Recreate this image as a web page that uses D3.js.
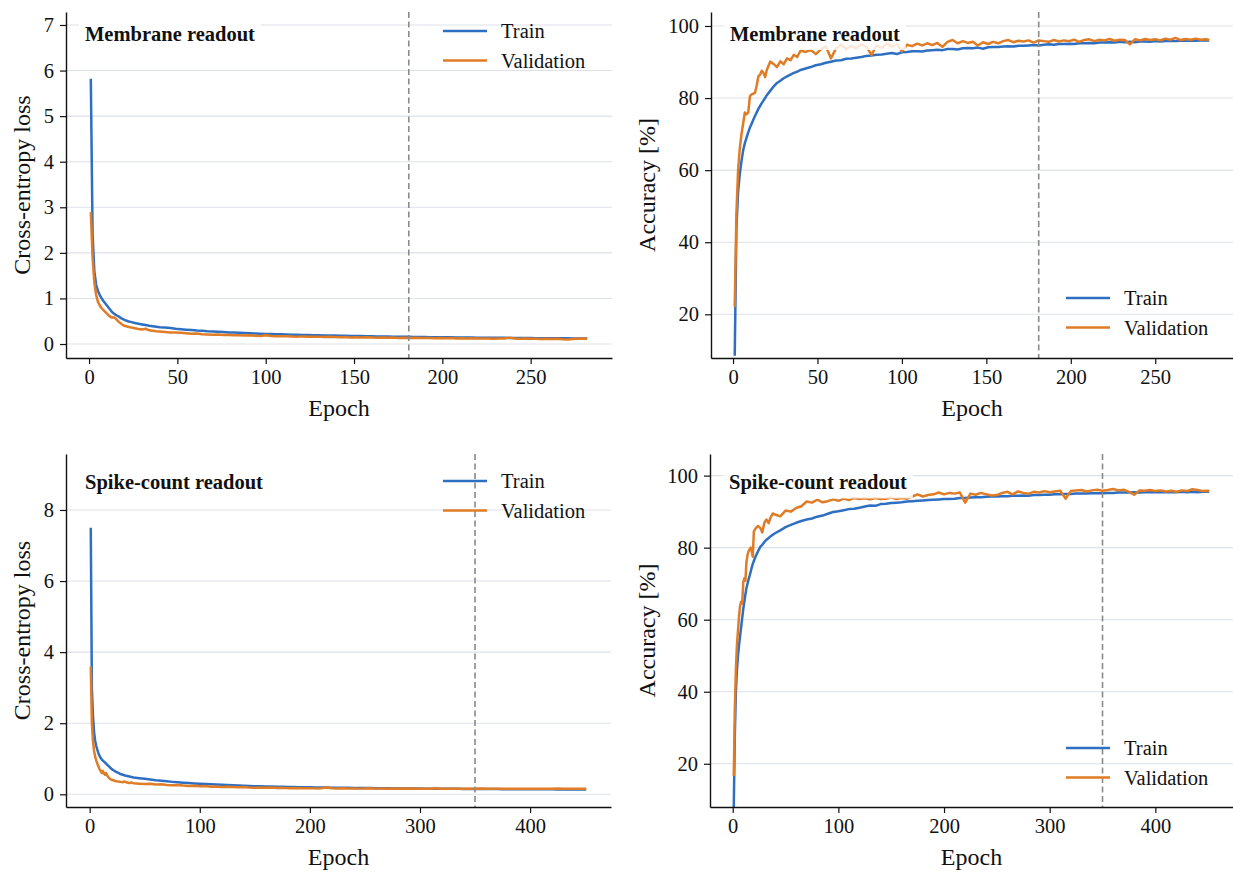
<!DOCTYPE html>
<html><head><meta charset="utf-8">
<script src="https://cdn.jsdelivr.net/npm/d3@7"></script>
<style>
body{margin:0;background:#fff}
svg{display:block}
text{font-family:"Liberation Serif","Times New Roman",Times,serif;fill:#111}
</style>
</head><body><svg id="c" width="1233" height="876"></svg>
<script>
// ---------------- DATA ----------------
const seriesNames = ["Train", "Validation"];
const titles = ["Membrane readout", "Spike-count readout"];
const yLabels = ["Cross-entropy loss", "Accuracy [%]"];
const xLabel = "Epoch";

const xTicksM = [0, 50, 100, 150, 200, 250];
const xTicksS = [0, 100, 200, 300, 400];
const yTicksLossM = [0, 1, 2, 3, 4, 5, 6, 7];
const yTicksLossS = [0, 2, 4, 6, 8];
const yTicksAcc = [20, 40, 60, 80, 100];

const bestEpochM = 181;
const bestEpochS = 350;

const epochsM = [1,2,3,4,5,6,7,8,9,10,11,12,13,14,15,16,17,18,19,20,
 22,24,26,28,30,32,34,36,38,40,
 43,46,49,52,55,58,61,64,67,70,73,76,79,82,85,88,91,94,97,100,
 103,106,109,112,115,118,121,124,127,130,133,136,139,142,145,148,151,154,157,160,
 163,166,169,172,175,178,181,184,187,190,193,196,199,202,205,208,211,214,217,220,
 223,226,229,232,235,238,241,244,247,250,253,256,259,262,265,268,271,274,277,280,
 282];

const lossTrainM = [5.82,2.40,1.60,1.30,1.17,1.08,1.01,0.95,0.90,0.85,0.80,0.75,0.70,0.67,0.64,0.62,0.60,0.57,0.55,0.53,
 0.50,0.48,0.46,0.445,0.43,0.415,0.40,0.39,0.38,0.37,
 0.36,0.35,0.335,0.325,0.315,0.305,0.295,0.29,0.28,0.275,0.27,0.262,0.255,0.25,0.245,0.24,0.235,0.23,0.227,0.222,
 0.218,0.215,0.212,0.208,0.205,0.202,0.199,0.196,0.194,0.191,0.188,0.186,0.184,0.182,0.18,0.177,0.175,0.173,0.171,0.169,
 0.167,0.166,0.164,0.162,0.161,0.159,0.157,0.156,0.154,0.153,0.151,0.15,0.149,0.147,0.146,0.145,0.144,0.142,0.141,0.14,
 0.139,0.138,0.137,0.136,0.135,0.134,0.133,0.132,0.131,0.13,0.129,0.128,0.127,0.126,0.126,0.125,0.124,0.123,0.122,0.121,
 0.121];

const lossValM = [2.90,1.90,1.35,1.08,0.93,0.85,0.79,0.75,0.71,0.67,0.63,0.60,0.58,0.585,0.56,0.52,0.48,0.45,0.42,0.40,
 0.38,0.36,0.345,0.33,0.32,0.335,0.30,0.29,0.28,0.275,
 0.265,0.255,0.25,0.245,0.235,0.225,0.23,0.215,0.21,0.205,0.21,0.2,0.195,0.19,0.192,0.185,0.19,0.18,0.175,0.19,
 0.178,0.172,0.168,0.172,0.165,0.162,0.167,0.16,0.157,0.162,0.152,0.157,0.152,0.148,0.153,0.143,0.148,0.143,0.148,0.142,
 0.138,0.143,0.137,0.142,0.133,0.138,0.132,0.137,0.132,0.13,0.134,0.127,0.132,0.126,0.13,0.122,0.127,0.121,0.126,0.121,
 0.119,0.123,0.116,0.121,0.119,0.14,0.121,0.116,0.119,0.113,0.116,0.112,0.117,0.11,0.113,0.105,0.1,0.108,0.115,0.12,
 0.118];

const accTrainM = [8.5,44,54,59,62.5,65.5,67.5,69,70.5,71.8,72.9,74,75,76,77,77.8,78.6,79.3,80,80.8,
 82,83.2,84.2,84.8,85.5,86,86.5,87,87.3,87.8,
 88.2,88.6,89.1,89.4,89.8,90.1,90.4,90.5,90.9,91,91.2,91.4,91.7,91.8,92,92.1,92.3,92.5,92.2,92.7,
 92.8,93,93,92.9,93.2,93.3,93.4,93.3,93.6,93.6,93.5,93.8,93.9,93.8,94,93.7,94.1,94.2,94.2,94.3,
 94.4,94.3,94.5,94.5,94.6,94.7,94.6,94.8,94.9,94.8,95,95,95.1,95,95.2,95.2,95.3,95.2,95.4,95.4,
 95.5,95.4,95.6,95.5,95.6,95.5,95.7,95.7,95.6,95.8,95.7,95.8,95.9,95.8,95.9,95.9,96,95.9,96,96,
 96];

const accValM = [22,48,60,66,70,73,76,75.5,76,80.5,81,81.2,81.5,83.5,86,86.5,87.6,87,85.8,87.8,
 90.1,89.5,88.6,90.2,89.4,91,90.5,92,91.4,93.2,
 92.8,93.4,92.2,93.5,94.3,91.0,93.8,94.8,93.6,94.5,93.8,95.0,94.2,92.0,94.6,93.9,95.1,94.3,95.0,93.0,
 94.8,94.4,95.1,94.6,95.2,94.7,95.3,94.2,95.6,96.1,95.2,95.8,95.3,95.6,94.6,95.5,95.0,95.6,95.2,95.8,
 96.1,95.5,95.9,95.7,96.0,95.4,96.0,95.8,95.6,96.1,95.7,96.0,95.8,96.2,95.6,96.1,96.3,95.8,96.2,96.0,
 96.4,95.9,96.2,96.1,94.9,96.3,96.0,96.4,96.1,96.3,96.0,96.5,96.2,96.7,96.1,96.4,96.2,96.5,96.2,96.3,
 96.1];

const epochsS = [1,2,3,4,5,6,7,8,9,10,11,12,13,14,15,16,17,18,19,20,
 22,24,26,28,30,32,34,36,38,40,
 45,50,55,60,65,70,75,80,85,90,95,100,105,110,115,120,125,130,135,140,
 145,150,155,160,165,170,175,180,185,190,195,200,205,210,215,220,225,230,235,240,
 245,250,255,260,265,270,275,280,285,290,295,300,305,310,315,320,325,330,335,340,
 345,350,355,360,365,370,375,380,385,390,395,400,405,410,415,420,425,430,435,440,
 445,450,451];

const lossTrainS = [7.5,3.0,2.2,1.75,1.5,1.36,1.25,1.15,1.08,1.02,0.98,0.95,0.92,0.89,0.86,0.83,0.80,0.77,0.74,0.71,
 0.67,0.63,0.6,0.57,0.55,0.53,0.515,0.5,0.485,0.475,
 0.455,0.435,0.415,0.395,0.38,0.365,0.35,0.338,0.327,0.317,0.307,0.298,0.29,0.283,0.275,0.267,0.26,0.253,0.246,0.24,
 0.235,0.23,0.226,0.222,0.218,0.214,0.211,0.208,0.205,0.202,0.2,0.197,0.195,0.192,0.19,0.188,0.186,0.184,0.182,0.18,
 0.178,0.176,0.175,0.173,0.171,0.17,0.168,0.167,0.165,0.164,0.162,0.161,0.16,0.158,0.157,0.156,0.155,0.154,0.153,0.152,
 0.151,0.15,0.149,0.148,0.147,0.146,0.145,0.145,0.144,0.143,0.142,0.142,0.141,0.14,0.14,0.139,0.138,0.138,0.137,0.137,
 0.136,0.136,0.135];

const lossValS = [3.6,2.0,1.5,1.22,1.06,0.95,0.86,0.78,0.71,0.65,0.6,0.66,0.58,0.55,0.6,0.52,0.48,0.45,0.42,0.41,
 0.39,0.37,0.36,0.35,0.34,0.36,0.33,0.32,0.33,0.31,
 0.3,0.29,0.3,0.275,0.28,0.265,0.255,0.262,0.245,0.235,0.243,0.225,0.232,0.215,0.222,0.205,0.212,0.204,0.196,0.203,
 0.193,0.188,0.194,0.184,0.189,0.179,0.184,0.174,0.179,0.172,0.168,0.174,0.167,0.172,0.19,0.168,0.163,0.168,0.161,0.165,
 0.16,0.165,0.169,0.16,0.164,0.157,0.162,0.156,0.161,0.157,0.162,0.159,0.154,0.158,0.172,0.157,0.16,0.154,0.158,0.155,
 0.159,0.157,0.162,0.155,0.159,0.154,0.158,0.156,0.16,0.155,0.159,0.157,0.16,0.154,0.159,0.156,0.162,0.157,0.16,0.155,
 0.159,0.157,0.158];

const accTrainS = [8,28,40,46,50,53,55.5,58,60.5,63,65,67,68.8,70,71.2,72.2,73.3,74.5,75.5,76.3,
 77.8,79,80.2,80.8,81.6,82.2,82.7,83.2,83.6,84,
 84.8,85.7,86.3,86.9,87.4,87.8,88.1,88.6,88.9,89.4,89.9,90.1,90.4,90.7,90.8,91.1,91.4,91.7,91.6,92.1,
 92.2,92.4,92.5,92.6,92.8,92.9,93.0,93.1,93.2,93.3,93.4,93.5,93.5,93.6,93.8,93.8,93.9,94.0,94.0,94.1,
 94.2,94.2,94.3,94.3,94.4,94.4,94.5,94.4,94.6,94.6,94.7,94.7,94.8,94.8,94.9,94.9,95.0,95.0,95.0,95.1,
 95.1,95.1,95.2,95.2,95.3,95.3,95.3,95.4,95.3,95.4,95.4,95.4,95.4,95.4,95.4,95.4,95.5,95.4,95.5,95.4,
 95.5,95.5,95.5];

const accValS = [16.6,35,46,53,57,61,64,65,64.5,70.5,71.5,70.8,76,78,79,79.5,80,79,77.5,84.5,
 85.5,86,85.5,84.2,87,87.8,86.8,88.5,89.5,89.2,
 88.7,90.3,90.0,91.0,91.5,92.8,92.5,93.3,92.6,92.9,93.4,93.0,93.6,93.2,93.8,93.5,93.7,93.4,93.8,93.5,
 93.6,93.9,93.5,93.8,93.6,94.2,94.8,94.2,94.6,94.8,95.3,94.8,95.2,95.0,95.3,92.5,95.0,94.7,95.2,94.8,
 94.5,94.6,95.2,95.5,94.8,95.6,95.2,95.0,95.5,95.3,95.7,95.4,95.6,95.8,93.6,95.7,95.9,96.0,95.6,95.9,
 96.1,95.8,96.0,96.3,95.9,96.1,95.5,94.7,95.9,95.8,96.0,95.7,95.9,95.6,95.8,95.5,95.9,95.7,96.2,96.0,
 95.7,95.8,95.7];

// ---------------- LAYOUT / STYLE ----------------
const colors = {train: "#2e6fc1", val: "#e07b26", grid: "#dde1e8", dash: "#8a8a8a"};
const FS_TICK = 20.5, FS_LABEL = 24, FS_LEG = 20.5, FS_TITLE = 20.5;
const LW = 2.5;

const panels = [
  {left: 66, right: 612, top: 12, bottom: 358, xDomain: [-13.05, 296.05], yDomain: [-0.307, 7.285],
   xTicks: xTicksM, yTicks: yTicksLossM, ylabel: yLabels[0], title: titles[0], labelX: 22,
   epochs: epochsM, train: lossTrainM, val: lossValM, stop: bestEpochM, legX: 443, legY: 31},
  {left: 711, right: 1233, top: 12, bottom: 358, xDomain: [-13.05, 296.05], yDomain: [7.88, 103.88],
   xTicks: xTicksM, yTicks: yTicksAcc, ylabel: yLabels[1], title: titles[0], labelX: 647,
   epochs: epochsM, train: accTrainM, val: accValM, stop: bestEpochM, legX: 1066, legY: 298},
  {left: 66, right: 611, top: 454, bottom: 807, xDomain: [-21.5, 473.5], yDomain: [-0.357, 9.575],
   xTicks: xTicksS, yTicks: yTicksLossS, ylabel: yLabels[0], title: titles[1], labelX: 22,
   epochs: epochsS, train: lossTrainS, val: lossValS, stop: bestEpochS, legX: 443, legY: 481},
  {left: 710, right: 1233, top: 454, bottom: 807, xDomain: [-21.5, 473.5], yDomain: [8.0, 106.0],
   xTicks: xTicksS, yTicks: yTicksAcc, ylabel: yLabels[1], title: titles[1], labelX: 647,
   epochs: epochsS, train: accTrainS, val: accValS, stop: bestEpochS, legX: 1066, legY: 748}
];

const svg = d3.select("#c");

panels.forEach(p => {
  const x = d3.scaleLinear().domain(p.xDomain).range([p.left, p.right]);
  const y = d3.scaleLinear().domain(p.yDomain).range([p.bottom, p.top]);
  const g = svg.append("g");

  // grid
  g.append("g").selectAll("line").data(p.yTicks).join("line")
    .attr("x1", p.left).attr("x2", p.right)
    .attr("y1", d => y(d)).attr("y2", d => y(d))
    .attr("stroke", colors.grid).attr("stroke-width", 1.1);

  // curves
  const line = d3.line().x((d, i) => x(p.epochs[i])).y(d => y(d));
  g.append("path").attr("d", line(p.train)).attr("fill", "none")
    .attr("stroke", colors.train).attr("stroke-width", LW).attr("stroke-linejoin", "round");
  g.append("path").attr("d", line(p.val)).attr("fill", "none")
    .attr("stroke", colors.val).attr("stroke-width", LW).attr("stroke-linejoin", "round");

  // best epoch dashed line
  g.append("line").attr("x1", x(p.stop)).attr("x2", x(p.stop))
    .attr("y1", p.top).attr("y2", p.bottom)
    .attr("stroke", colors.dash).attr("stroke-width", 1.6).attr("stroke-dasharray", "6,3.5");

  // title with semi-transparent box
  const tx = p.left + 19, ty = p.top + (p.top < 100 ? 28.5 : 35);
  const tb = g.append("rect").attr("fill", "#fff").attr("fill-opacity", 0.82);
  const tt = g.append("text").attr("x", tx).attr("y", ty)
    .attr("font-size", FS_TITLE).attr("font-weight", "bold").text(p.title);
  const tw = tt.node().getComputedTextLength();
  tb.attr("x", tx - 6).attr("y", ty - 19).attr("width", tw + 12).attr("height", 28.5);

  // axes
  const ax = g.append("g").attr("transform", `translate(0,${p.bottom})`)
    .call(d3.axisBottom(x).tickValues(p.xTicks).tickFormat(d3.format("d")).tickSize(6).tickSizeOuter(0).tickPadding(5));
  const ay = g.append("g").attr("transform", `translate(${p.left},0)`)
    .call(d3.axisLeft(y).tickValues(p.yTicks).tickFormat(d3.format("d")).tickSize(6).tickSizeOuter(0).tickPadding(6));
  [ax, ay].forEach(a => {
    a.select(".domain").attr("stroke", "#111").attr("stroke-width", 1.4);
    a.selectAll(".tick line").attr("stroke", "#111").attr("stroke-width", 1.2);
    a.selectAll(".tick text").attr("font-size", FS_TICK)
      .attr("font-family", '"Liberation Serif","Times New Roman",serif').attr("fill", "#111");
  });

  // axis labels
  g.append("text").attr("x", (p.left + p.right) / 2).attr("y", p.bottom + 58)
    .attr("text-anchor", "middle").attr("font-size", FS_LABEL).text(xLabel);
  g.append("text").attr("transform", `translate(${p.labelX},${(p.top + p.bottom) / 2}) rotate(-90)`)
    .attr("text-anchor", "middle").attr("dy", "0.35em").attr("font-size", FS_LABEL).text(p.ylabel);

  // legend
  [colors.train, colors.val].forEach((c, i) => {
    const ly = p.legY + i * 29.5;
    g.append("line").attr("x1", p.legX).attr("x2", p.legX + 44).attr("y1", ly).attr("y2", ly)
      .attr("stroke", c).attr("stroke-width", 2.6);
    g.append("text").attr("x", p.legX + 58).attr("y", ly).attr("dy", "0.35em")
      .attr("font-size", FS_LEG).text(seriesNames[i]);
  });
});
</script>
</body></html>
